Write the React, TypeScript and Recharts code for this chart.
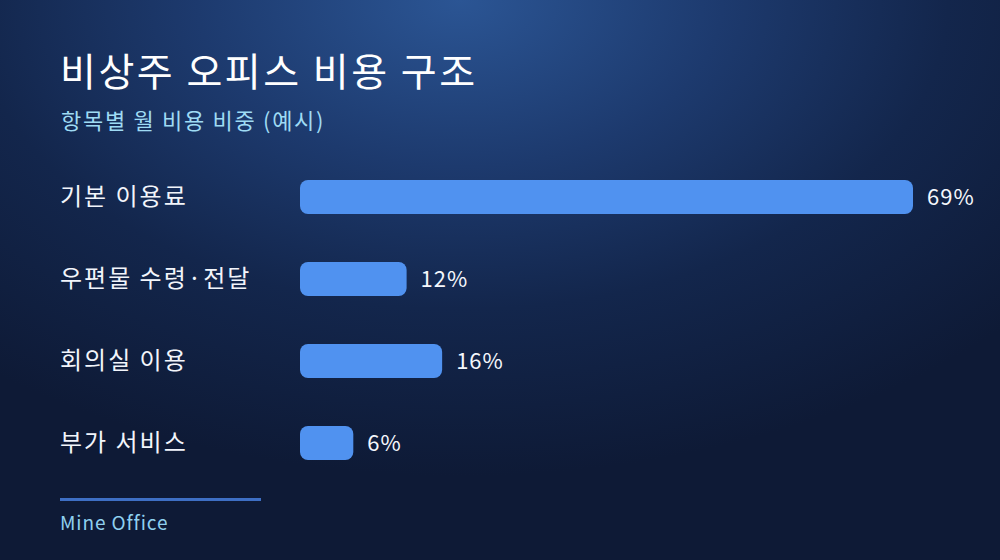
import React from "react";
import { BarChart, Bar, XAxis, YAxis, LabelList } from "recharts";

const categories = ["기본 이용료", "우편물 수령·전달", "회의실 이용", "부가 서비스"];
const shares = [69, 12, 16, 6];
const title = "비상주 오피스 비용 구조";
const subtitle = "항목별 월 비용 비중 (예시)";
const footer = "Mine Office";

const data = categories.map((name, i) => ({ name, value: shares[i] }));

const FONT = "'Noto Sans CJK KR', 'Noto Sans', sans-serif";

const CategoryTick = (props: any) => {
  const { y, payload } = props;
  return (
    <text
      x={60}
      y={y}
      dy={8}
      textAnchor="start"
      fill="#f2f5fb"
      fontSize={24}
      fontFamily={FONT}
      style={{ letterSpacing: "2px" }}
    >
      {payload.value}
    </text>
  );
};

export default function App() {
  return (
    <div
      style={{
        position: "absolute",
        left: 0,
        top: 0,
        width: 1000,
        height: 560,
        overflow: "hidden",
        background:
          "radial-gradient(ellipse 75% 85% at 46% 0%, #2b5594 0%, #1d3a6e 35%, #13264c 65%, #0e1a36 100%)",
        fontFamily: FONT,
      }}
    >
      <div
        style={{
          position: "absolute",
          left: 60,
          top: 43,
          color: "#ffffff",
          fontSize: 39,
          fontWeight: 400,
          letterSpacing: "2.5px",
          lineHeight: "52px",
          whiteSpace: "nowrap",
        }}
      >
        {title}
      </div>
      <div
        style={{
          position: "absolute",
          left: 61,
          top: 103,
          color: "#9fdbf4",
          fontSize: 22,
          letterSpacing: "1.7px",
          lineHeight: "32px",
          whiteSpace: "nowrap",
        }}
      >
        {subtitle}
      </div>
      <div style={{ position: "absolute", left: 0, top: 0 }}>
        <BarChart
          width={1000}
          height={560}
          data={data}
          layout="vertical"
          margin={{ top: 156, right: 87, bottom: 76, left: 0 }}
          barSize={34}
        >
          <XAxis type="number" domain={[0, 69]} hide />
          <YAxis
            type="category"
            dataKey="name"
            width={300}
            axisLine={false}
            tickLine={false}
            tick={<CategoryTick />}
          />
          <Bar dataKey="value" fill="#5092f0" radius={[8, 8, 8, 8]} isAnimationActive={false}>
            <LabelList
              dataKey="value"
              position="right"
              offset={14}
              formatter={(v: any) => `${v}%`}
              fill="#f4f7fc"
              fontSize={22}
              fontFamily={FONT}
              style={{ letterSpacing: "1px" }}
            />
          </Bar>
        </BarChart>
      </div>
      <div style={{ position: "absolute", left: 60, top: 498, width: 201, height: 3, background: "#3e6fc4" }} />
      <div
        style={{
          position: "absolute",
          left: 60,
          top: 508,
          color: "#8fd0ef",
          fontSize: 19,
          letterSpacing: "0.9px",
          lineHeight: "28px",
          whiteSpace: "nowrap",
        }}
      >
        {footer}
      </div>
    </div>
  );
}
